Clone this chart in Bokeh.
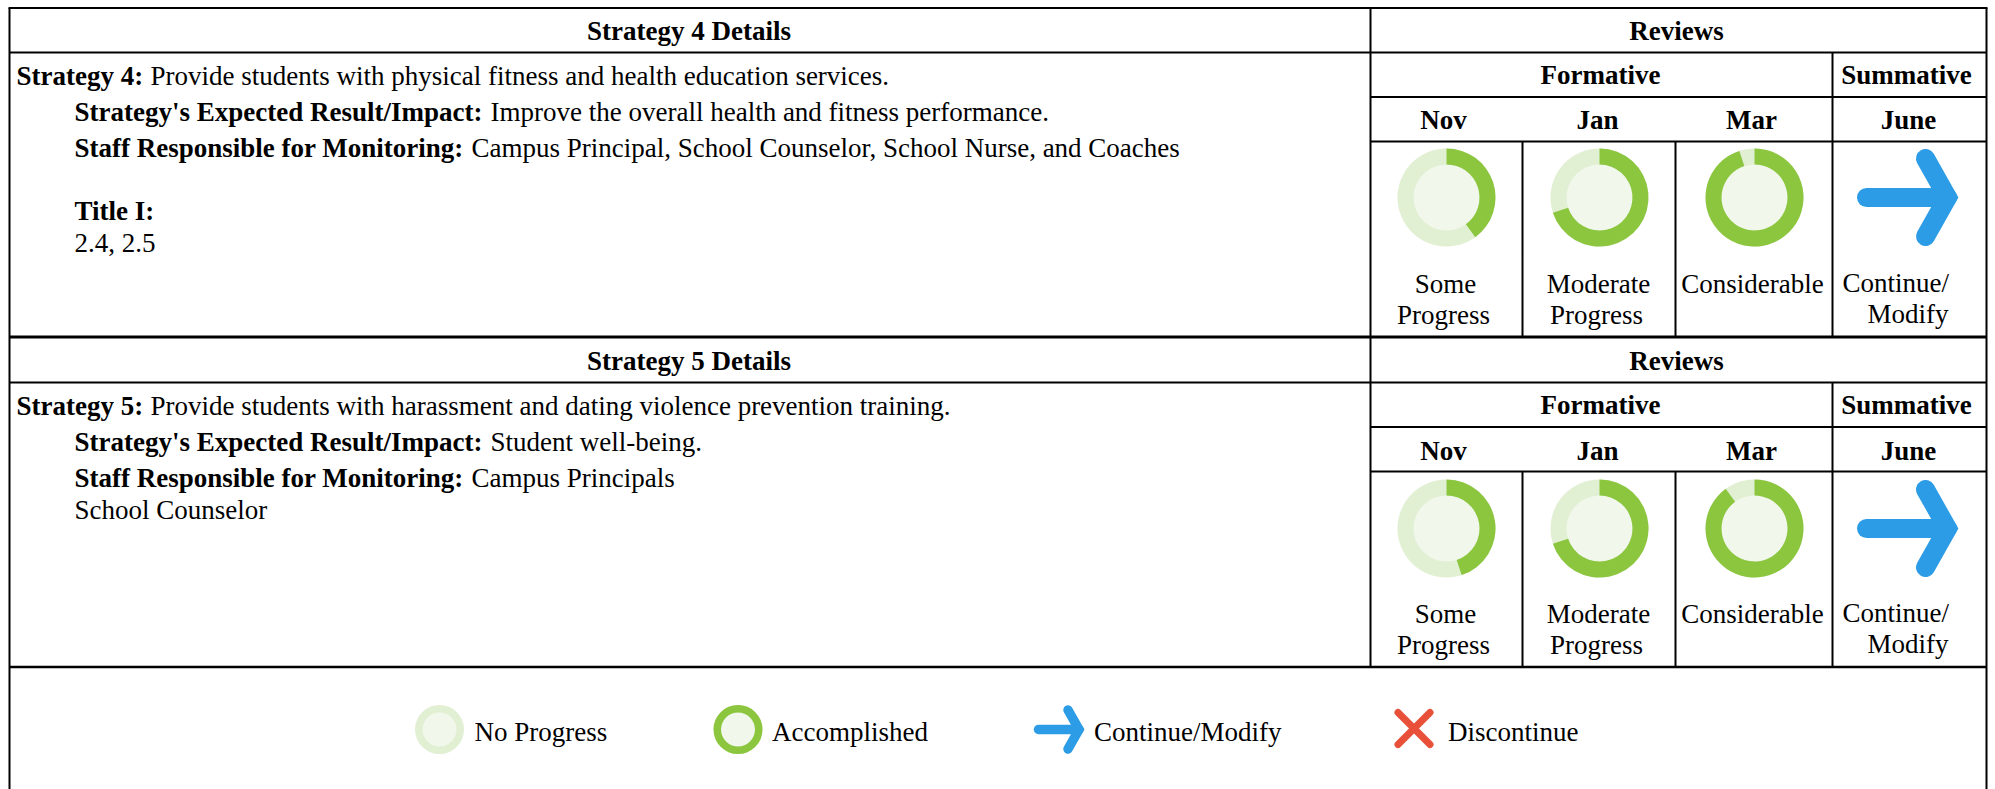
from math import pi
from bokeh.plotting import figure
from bokeh.models import Range1d
from bokeh.core.properties import value
from bokeh.embed import file_html
from bokeh.resources import INLINE

W, H = 1995, 789
FONT = "Liberation Serif"
FS = "27px"

# --- chart values (percent complete of the review rings) ---
months = ["Nov", "Jan", "Mar"]
summative_month = "June"
strategy4_progress = [40, 70, 95]
strategy5_progress = [45, 70, 90]
legend_labels = ["No Progress", "Accomplished", "Continue/Modify", "Discontinue"]

strategy4 = dict(num="4", text="Provide students with physical fitness and health education services.",
                 impact="Improve the overall health and fitness performance.",
                 staff="Campus Principal, School Counselor, School Nurse, and Coaches")
strategy5 = dict(num="5", text="Provide students with harassment and dating violence prevention training.",
                 impact="Student well-being.", staff="Campus Principals")

GREEN, PALE, CORE = "#8bc63e", "#e1efd3", "#f1f7eb"
BLUE, RED = "#2c9ce6", "#e8503a"

p = figure(width=W, height=H, x_range=Range1d(0, W), y_range=Range1d(0, H),
           output_backend="svg", toolbar_location=None,
           x_axis_location=None, y_axis_location=None,
           min_border=0, outline_line_color=None, margin=(0, 0, 0, 0))
p.grid.visible = False


def Y(y):
    return H - y


def txt(x, y, s, bold=False, align="left"):
    p.text([x - 1], [Y(y - 8)], text=[s], text_font=value(FONT), text_font_size=value(FS),
           text_font_style="bold" if bold else "normal", text_align=align,
           text_baseline="middle", text_color="#000000")


def seg(x0, y0, x1, y1, w=2.0):
    p.segment([x0], [Y(y0)], [x1], [Y(y1)], line_color="#000000", line_width=w, line_cap="butt")


def ring(cx, cy, outer, inner, pct):
    p.circle([cx], [Y(cy)], radius=outer, fill_color=PALE, line_color=None)
    p.circle([cx], [Y(cy)], radius=inner, fill_color=CORE, line_color=None)
    if pct > 0:
        if pct >= 100:
            p.annulus([cx], [Y(cy)], inner_radius=inner, outer_radius=outer,
                      fill_color=GREEN, line_color=None)
        else:
            p.annular_wedge([cx], [Y(cy)], inner_radius=inner, outer_radius=outer,
                            start_angle=pi / 2 - 2 * pi * pct / 100, end_angle=pi / 2,
                            direction="anticlock", fill_color=GREEN, line_color=None)


def arrow(cx, cy, k):
    w = 19 * k
    p.line([cx - 42 * k, cx + 39 * k], [Y(cy), Y(cy)], line_color=BLUE, line_width=w, line_cap="round")
    p.line([cx + 17 * k, cx + 39 * k, cx + 17 * k], [Y(cy - 39 * k), Y(cy), Y(cy + 39 * k)],
           line_color=BLUE, line_width=w, line_cap="round", line_join="miter")


XL, X0, X1, X2, X3, XR = 9, 1370, 1522, 1675, 1832, 1986
RING_X = [1446, 1599, 1754]
MONTH_X = [1444, 1598, 1752]


def block(d, pct, y0, dm):
    seg(XL, y0 + 44, XR, y0 + 44)
    seg(X0, y0 + 88.5, XR, y0 + 88.5)
    seg(X0, y0 + 133, XR, y0 + 133)
    for x in (X1, X2):
        seg(x, y0 + 133, x, y0 + 329)
    seg(X3, y0 + 44, X3, y0 + 329)
    txt((XL + X0) / 2, y0 + 30, f"Strategy {d['num']} Details", True, "center")
    txt(1677, y0 + 30, "Reviews", True, "center")
    txt(1601, y0 + 74, "Formative", True, "center")
    txt(1907, y0 + 74, "Summative", True, "center")
    for mx, m in zip(MONTH_X, months):
        txt(mx, y0 + 119 + dm, m, True, "center")
    txt(1909, y0 + 119 + dm, summative_month, True, "center")
    txt(17, y0 + 75, f"Strategy {d['num']}:", True)
    txt(151, y0 + 75, d["text"])
    txt(75, y0 + 111.5, "Strategy's Expected Result/Impact:", True)
    txt(491, y0 + 111.5, d["impact"])
    txt(75, y0 + 147, "Staff Responsible for Monitoring:", True)
    txt(472, y0 + 147, d["staff"])
    for rx, v in zip(RING_X, pct):
        ring(rx, y0 + 189 + dm, 49, 33, v)
    arrow(1908, y0 + 189 + dm, 1)
    txt(1446, y0 + 283, "Some", False, "center")
    txt(1444, y0 + 314, "Progress", False, "center")
    txt(1599, y0 + 283, "Moderate", False, "center")
    txt(1597, y0 + 314, "Progress", False, "center")
    txt(1753, y0 + 283, "Considerable", False, "center")
    txt(1843, y0 + 282, "Continue/")
    txt(1868, y0 + 313, "Modify")


seg(XL, 7.5, XL, H, 2)
seg(XR, 7.5, XR, H, 2)
seg(XL - 1, 7.5, XR + 1, 7.5, 2)
seg(X0, 7.5, X0, 667, 2)
seg(XL, 336.5, XR, 336.5, 3)
seg(XL, 666.5, XR, 666.5, 2.4)

block(strategy4, strategy4_progress, 8, 0)
block(strategy5, strategy5_progress, 338, 1)

txt(75, 218, "Title I:", True)
txt(75, 250, "2.4, 2.5")
txt(75, 517, "School Counselor")

ring(439, 729, 24.5, 17, 0)
txt(475, 739, legend_labels[0])
ring(737.5, 729, 24.5, 17, 100)
txt(772.5, 739, legend_labels[1])
arrow(1059, 729, 0.5)
txt(1094.5, 739, legend_labels[2])
d = 16
p.segment([1413.5 - d, 1413.5 - d], [Y(728 - d), Y(728 + d)],
          [1413.5 + d, 1413.5 + d], [Y(728 + d), Y(728 - d)],
          line_color=RED, line_width=7, line_cap="round")
txt(1448.5, 739, legend_labels[3])

open("out.html", "w").write(file_html(p, INLINE))
